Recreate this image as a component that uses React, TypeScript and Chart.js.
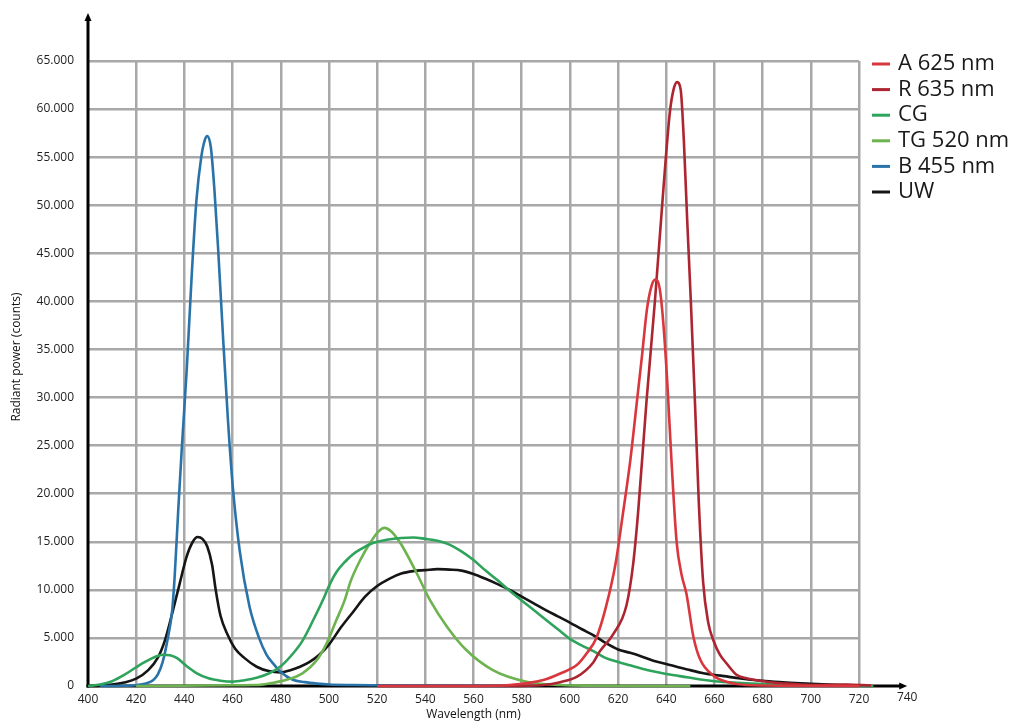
import React, { useEffect, useRef } from "react";
import { Chart, registerables } from "chart.js";

Chart.register(...registerables);

// ---- Data (wavelength in nm, radiant power in counts) ----
const seriesNames = ["A 625 nm", "R 635 nm", "CG", "TG 520 nm", "B 455 nm", "UW"];
const seriesColors = ["#d9363e", "#ac2530", "#2ea35c", "#6db34f", "#2a73a8", "#151515"];

const aWavelength = [520, 560, 575, 589, 596, 603, 607, 611, 615, 619, 622, 625, 628, 630, 632, 634, 635.7, 637.3, 638.7, 640.4, 642.2, 644.3, 646.3, 648.4, 651.2, 654, 659.5, 665, 673, 690, 720];
const aPower = [0, 0, 100, 620, 1300, 2200, 3400, 5000, 8250, 12800, 17900, 23300, 30000, 34500, 39200, 41700, 42300, 41300, 38000, 31700, 23300, 15000, 11650, 9570, 5200, 2800, 1100, 450, 100, 30, 0];

const rWavelength = [520, 575, 589, 596, 603, 609.7, 612.4, 618, 623.5, 626.3, 628.3, 631.8, 635.3, 638.7, 641.5, 643, 644.5, 646, 647.3, 648.7, 650.2, 651.9, 653.5, 655.3, 657.4, 659.5, 662.2, 665, 669, 673.3, 681.6, 690, 701, 715, 725, 732];
const rPower = [0, 0, 100, 400, 970, 2450, 3600, 5400, 8400, 12760, 18000, 29600, 40040, 51320, 59670, 62000, 62800, 62000, 56770, 48400, 40040, 29600, 19160, 10820, 6640, 4780, 3290, 2360, 1200, 800, 450, 250, 100, 150, 50, 0];

const cgWavelength = [400, 405, 410, 415, 420, 424, 428, 431, 434, 437, 441, 445, 450, 455, 460, 465, 470, 475, 480, 485, 489, 493.5, 497.5, 500.5, 503, 507, 510, 513, 518, 524, 530, 535, 540, 545, 550, 555, 560, 565, 570, 575, 580, 585, 590, 595, 600, 605, 610, 615, 620, 625, 630, 635, 640, 645, 650, 655, 660, 670, 680, 690, 700, 715, 726];
const cgPower = [0, 150, 500, 1150, 1950, 2550, 3050, 3250, 3200, 2900, 2050, 1350, 800, 550, 450, 600, 850, 1300, 2050, 3350, 4700, 6860, 8940, 10650, 11800, 13000, 13700, 14200, 14850, 15200, 15400, 15450, 15300, 15100, 14700, 14000, 13100, 12000, 11000, 9900, 8900, 7900, 6900, 5900, 4900, 4200, 3600, 2900, 2500, 2150, 1800, 1500, 1250, 1050, 850, 650, 500, 330, 200, 130, 80, 30, 0];

const tgWavelength = [420, 440, 460, 470, 476, 482, 489, 495, 499, 503, 506.5, 509, 513, 517, 520.5, 523, 526, 529, 531, 536.5, 542, 549, 557, 568, 582, 596, 610, 630, 650];
const tgPower = [0, 20, 80, 100, 300, 620, 1320, 2700, 4400, 6800, 8900, 10900, 13100, 14840, 16050, 16450, 16050, 15100, 14300, 11700, 8900, 6170, 3740, 1660, 450, 100, 30, 0, 0];

const bWavelength = [405, 415, 420, 424, 427, 429, 431, 433, 435, 436, 437.5, 439, 441, 443, 445, 447, 448.5, 449.5, 451, 452.5, 454, 456, 458, 460, 463, 467, 471, 474, 477, 480, 485, 490, 495, 500, 510, 520, 540, 560, 574];
const bPower = [0, 30, 80, 250, 600, 1200, 2500, 4800, 8000, 11500, 18500, 25000, 33000, 42500, 50500, 55000, 56800, 57200, 56000, 51500, 45500, 36500, 28000, 21000, 14000, 8300, 5000, 3300, 2300, 1450, 650, 400, 250, 150, 100, 80, 50, 30, 0];

const uwWavelength = [400, 405, 410, 415, 420, 425, 429, 432, 435, 438, 441, 443.5, 445.5, 447.5, 449.5, 451.5, 453, 455, 458, 461, 465, 470, 475, 480, 484, 488, 492, 496, 500, 505, 510, 515, 520, 525, 530, 535, 540, 545, 550, 555, 560, 565, 570, 575, 580, 585, 590, 595, 600, 605, 610, 615, 620, 625, 630, 635, 640, 645, 650, 655, 660, 665, 670, 675, 680, 690, 700, 710, 720, 733];
const uwPower = [0, 40, 150, 360, 760, 1650, 2950, 4800, 7600, 10600, 13500, 15000, 15500, 15300, 14500, 12600, 10000, 7300, 5300, 3900, 2900, 2000, 1550, 1420, 1650, 2000, 2500, 3250, 4300, 6100, 7700, 9300, 10400, 11150, 11700, 11950, 12050, 12150, 12100, 12000, 11650, 11150, 10600, 10000, 9300, 8600, 7900, 7250, 6600, 5900, 5250, 4450, 3800, 3450, 3050, 2600, 2300, 1950, 1650, 1350, 1150, 1000, 800, 650, 550, 360, 230, 120, 50, 0];

const seriesWavelengths = [aWavelength, rWavelength, cgWavelength, tgWavelength, bWavelength, uwWavelength];
const seriesPowers = [aPower, rPower, cgPower, tgPower, bPower, uwPower];

const xMin = 400;
const xMax = 720;
const xStep = 20;
const xArrowTickLabel = 740;
const yMin = 0;
const yMax = 65000;
const yStep = 5000;
const yArrowEnd = 70000;
const xTitle = "Wavelength (nm)";
const yTitle = "Radiant power (counts)";

const FONT = "'Open Sans', 'DejaVu Sans', sans-serif";

function formatThousands(v: number): string {
  if (v === 0) return "0";
  const k = Math.floor(v / 1000);
  const r = v % 1000;
  return `${k}.${String(r).padStart(3, "0")}`;
}

const decorPlugin = {
  id: "decor",
  beforeDatasetsDraw(chart: any) {
    const { ctx, scales } = chart;
    const x = scales.x;
    const y = scales.y;
    const x0 = x.getPixelForValue(xMin);
    const y0 = y.getPixelForValue(yMin);
    const xEnd = x.getPixelForValue(xArrowTickLabel);
    const yEnd = y.getPixelForValue(yArrowEnd);
    ctx.save();
    ctx.strokeStyle = "#000";
    ctx.fillStyle = "#000";
    ctx.lineWidth = 3;
    ctx.beginPath();
    ctx.moveTo(x0, y0 + 1.5);
    ctx.lineTo(x0, yEnd + 5);
    ctx.stroke();
    ctx.beginPath();
    ctx.moveTo(x0 - 1.5, y0);
    ctx.lineTo(xEnd - 5, y0);
    ctx.stroke();
    ctx.beginPath();
    ctx.moveTo(x0, yEnd);
    ctx.lineTo(x0 - 3.5, yEnd + 8);
    ctx.lineTo(x0 + 3.5, yEnd + 8);
    ctx.closePath();
    ctx.fill();
    ctx.beginPath();
    ctx.moveTo(xEnd, y0);
    ctx.lineTo(xEnd - 8, y0 - 3.5);
    ctx.lineTo(xEnd - 8, y0 + 3.5);
    ctx.closePath();
    ctx.fill();
    ctx.restore();
  },
  afterDraw(chart: any) {
    const { ctx, scales } = chart;
    const x = scales.x;
    const y = scales.y;
    const y0 = y.getPixelForValue(yMin);
    ctx.save();
    // extra tick label at the arrow end
    ctx.fillStyle = "#222";
    ctx.font = `12px ${FONT}`;
    ctx.textAlign = "center";
    ctx.textBaseline = "middle";
    ctx.fillText(String(xArrowTickLabel), x.getPixelForValue(xArrowTickLabel), y0 + 12);

    // y axis title
    ctx.save();
    ctx.translate(17, 357);
    ctx.rotate(-Math.PI / 2);
    ctx.font = `12px ${FONT}`;
    ctx.textAlign = "center";
    ctx.textBaseline = "middle";
    ctx.fillStyle = "#111";
    ctx.fillText(yTitle, 0, 0);
    ctx.restore();

    // legend
    const lx = 872;
    const ly = 64;
    const rowH = 25.6;
    ctx.font = `22px ${FONT}`;
    ctx.textAlign = "left";
    ctx.textBaseline = "middle";
    chart.data.datasets.forEach((ds: any, i: number) => {
      const cy = ly + i * rowH;
      ctx.strokeStyle = ds.borderColor;
      ctx.lineWidth = 3;
      ctx.beginPath();
      ctx.moveTo(lx, cy);
      ctx.lineTo(lx + 18, cy);
      ctx.stroke();
      ctx.fillStyle = "#1a1a1a";
      ctx.fillText(ds.label, lx + 26, cy);
    });
    ctx.restore();
  },
};

export default function App() {
  const canvasRef = useRef<HTMLCanvasElement | null>(null);

  useEffect(() => {
    if (!canvasRef.current) return;
    const datasets = seriesNames.map((name, i) => ({
      label: name,
      data: seriesWavelengths[i].map((w, j) => ({ x: w, y: seriesPowers[i][j] })),
      borderColor: seriesColors[i],
      backgroundColor: seriesColors[i],
      borderWidth: 2.6,
      pointRadius: 0,
      fill: false,
      cubicInterpolationMode: "monotone" as const,
      clip: false as any,
    }));

    const chart = new Chart(canvasRef.current, {
      type: "line",
      data: { datasets },
      options: {
        animation: false,
        responsive: false,
        layout: { padding: { top: 61, right: 165, left: 0, bottom: 0 } },
        plugins: {
          legend: { display: false },
          tooltip: { enabled: false },
        },
        scales: {
          x: {
            type: "linear",
            min: xMin,
            max: xMax,
            border: { display: false },
            grid: {
              color: (c: any) => (c.tick && c.tick.value === xMin ? "rgba(0,0,0,0)" : "#a8a8a8"),
              lineWidth: 2.5,
              drawTicks: false,
            },
            ticks: {
              stepSize: xStep,
              padding: 6,
              color: "#222",
              font: { family: FONT, size: 12 },
              maxRotation: 0,
              autoSkip: false,
            },
            title: {
              display: true,
              text: xTitle,
              color: "#111",
              font: { family: FONT, size: 12 },
              padding: { top: 0, bottom: 5 },
            },
            afterFit: (scale: any) => {
              scale.height = 41;
            },
          },
          y: {
            type: "linear",
            min: yMin,
            max: yMax,
            border: { display: false },
            grid: {
              color: (c: any) => (c.tick && c.tick.value === yMin ? "rgba(0,0,0,0)" : "#a8a8a8"),
              lineWidth: 2.5,
              drawTicks: false,
            },
            ticks: {
              stepSize: yStep,
              padding: 14,
              color: "#222",
              font: { family: FONT, size: 12 },
              callback: (v: any) => formatThousands(Number(v)),
            },
            afterFit: (scale: any) => {
              scale.width = 88;
            },
          },
        },
      },
      plugins: [decorPlugin],
    });
    return () => chart.destroy();
  }, []);

  return (
    <div style={{ position: "absolute", left: 0, top: 0, width: 1024, height: 727, background: "#fff" }}>
      <canvas ref={canvasRef} width={1024} height={727} style={{ display: "block" }} />
    </div>
  );
}
